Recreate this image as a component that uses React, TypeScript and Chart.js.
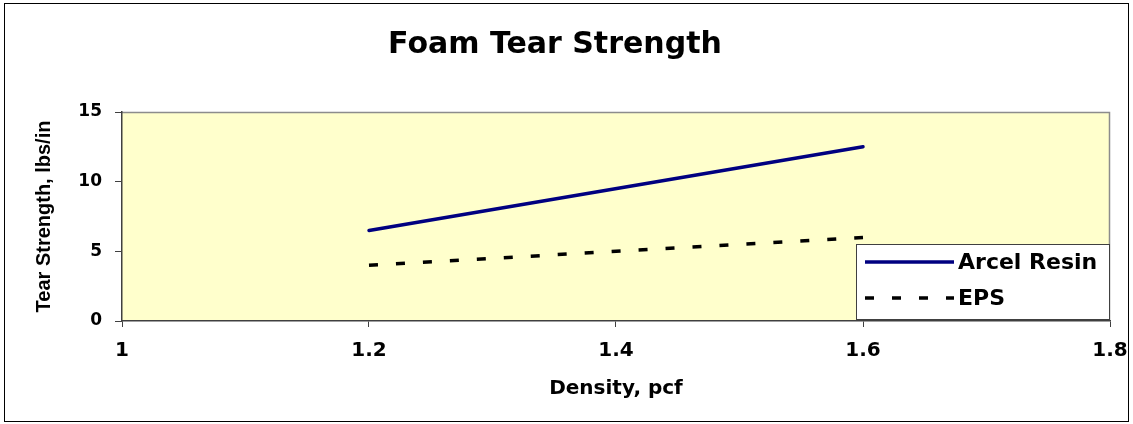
import React, { useEffect, useRef } from "react";
import { Chart, registerables } from "chart.js";

Chart.register(...registerables);

const chartTitle = "Foam Tear Strength";
const xAxisTitle = "Density, pcf";
const yAxisTitle = "Tear Strength, lbs/in";
const seriesLabels = ["Arcel Resin", "EPS"];
const densities = [1.2, 1.6];
const arcelResin = [6.5, 12.5];
const eps = [4, 6];
const xTickValues = [1, 1.2, 1.4, 1.6, 1.8];
const yTickValues = [0, 5, 10, 15];

const W = 1133;
const H = 424;

const decor = {
  id: "decor",
  beforeDraw(chart: any) {
    const { ctx, chartArea: a, width, height } = chart;
    ctx.save();
    ctx.fillStyle = "#ffffff";
    ctx.fillRect(0, 0, width, height);
    ctx.fillStyle = "#FFFFCC";
    ctx.fillRect(a.left, a.top, a.right - a.left, a.bottom - a.top);
    ctx.strokeStyle = "#8c8c8c";
    ctx.lineWidth = 1.5;
    ctx.beginPath();
    ctx.moveTo(a.left, a.top + 0.5);
    ctx.lineTo(a.right - 0.5, a.top + 0.5);
    ctx.lineTo(a.right - 0.5, a.bottom);
    ctx.stroke();
    ctx.strokeStyle = "#000000";
    ctx.lineWidth = 1;
    ctx.strokeRect(4.5, 3.5, 1124, 418);
    ctx.restore();
  },
  afterDraw(chart: any) {
    const { ctx, chartArea: a } = chart;
    const bx = 856.5;
    const by = 244.5;
    const bw = a.right - 0.5 - bx;
    const bh = 75;
    ctx.save();
    ctx.fillStyle = "#ffffff";
    ctx.fillRect(bx, by, bw, bh);
    ctx.strokeStyle = "#404040";
    ctx.lineWidth = 1;
    ctx.strokeRect(bx, by, bw, bh);
    const rows = [262, 298];
    chart.data.datasets.forEach((ds: any, i: number) => {
      const y = rows[i];
      ctx.beginPath();
      ctx.strokeStyle = ds.borderColor;
      ctx.lineWidth = ds.borderWidth;
      ctx.setLineDash(ds.borderDash || []);
      ctx.lineCap = "butt";
      ctx.moveTo(865, y);
      ctx.lineTo(954, y);
      ctx.stroke();
      ctx.setLineDash([]);
      ctx.fillStyle = "#000000";
      ctx.font = "bold 22px 'DejaVu Sans'";
      ctx.textBaseline = "middle";
      ctx.textAlign = "left";
      ctx.fillText(ds.label, 958, y + 1);
    });
    ctx.restore();
  },
};

export default function App() {
  const ref = useRef<HTMLCanvasElement | null>(null);
  useEffect(() => {
    if (!ref.current) return;
    const chart = new Chart(ref.current, {
      type: "line",
      data: {
        datasets: [
          {
            label: seriesLabels[0],
            data: densities.map((x, i) => ({ x, y: arcelResin[i] })),
            borderColor: "#000080",
            borderWidth: 3.5,
            borderCapStyle: "round",
            pointRadius: 0,
            fill: false,
            tension: 0,
          },
          {
            label: seriesLabels[1],
            data: densities.map((x, i) => ({ x, y: eps[i] })),
            borderColor: "#000000",
            borderWidth: 3.5,
            borderDash: [9, 18],
            pointRadius: 0,
            fill: false,
            tension: 0,
          },
        ],
      },
      options: {
        responsive: false,
        animation: false,
        events: [],
        layout: { padding: { left: 0, right: 23, top: 0, bottom: 0 } },
        plugins: {
          legend: { display: false },
          tooltip: { enabled: false },
          title: {
            display: true,
            text: chartTitle,
            color: "#000000",
            font: { family: "'DejaVu Sans'", size: 30, weight: "bold", lineHeight: 1.2 },
            padding: { top: 27, bottom: 49 },
          },
        },
        scales: {
          x: {
            type: "linear",
            min: 1,
            max: 1.8,
            afterBuildTicks: (s: any) => {
              s.ticks = xTickValues.map((v) => ({ value: v }));
            },
            afterFit: (s: any) => {
              s.height = H - 321;
              s.paddingRight = 0;
              s.paddingLeft = 0;
            },
            ticks: {
              color: "#000000",
              font: { family: "'DejaVu Sans'", size: 20, weight: "bold" },
              padding: 12,
              maxRotation: 0,
              callback: (v: any) => String(Math.round(Number(v) * 10) / 10),
            },
            grid: { drawOnChartArea: false, drawTicks: true, tickLength: 6, color: "#404040" },
            border: { display: true, color: "#404040", width: 1.5 },
            title: {
              display: true,
              text: xAxisTitle,
              color: "#000000",
              font: { family: "'DejaVu Sans'", size: 20, weight: "bold", lineHeight: 1.2 },
              padding: { top: 0, bottom: 23 },
            },
          },
          y: {
            type: "linear",
            min: 0,
            max: 15,
            afterBuildTicks: (s: any) => {
              s.ticks = yTickValues.map((v) => ({ value: v }));
            },
            afterFit: (s: any) => {
              s.width = 122;
              s.paddingTop = 0;
              s.paddingBottom = 0;
            },
            ticks: {
              color: "#000000",
              font: { family: "'DejaVu Sans'", size: 17, weight: "bold" },
              padding: 13,
            },
            grid: { drawOnChartArea: false, drawTicks: true, tickLength: 7, color: "#404040" },
            border: { display: true, color: "#404040", width: 1.5 },
            title: {
              display: true,
              text: yAxisTitle,
              color: "#000000",
              font: { family: "'Liberation Sans'", size: 20, weight: "bold", lineHeight: 1.2 },
              padding: { top: 32, bottom: 0 },
            },
          },
        },
      } as any,
      plugins: [decor],
    });
    return () => chart.destroy();
  }, []);
  return (
    <div style={{ position: "absolute", left: 0, top: 0, width: W, height: H }}>
      <canvas ref={ref} width={W} height={H} style={{ display: "block", width: W, height: H }} />
    </div>
  );
}
